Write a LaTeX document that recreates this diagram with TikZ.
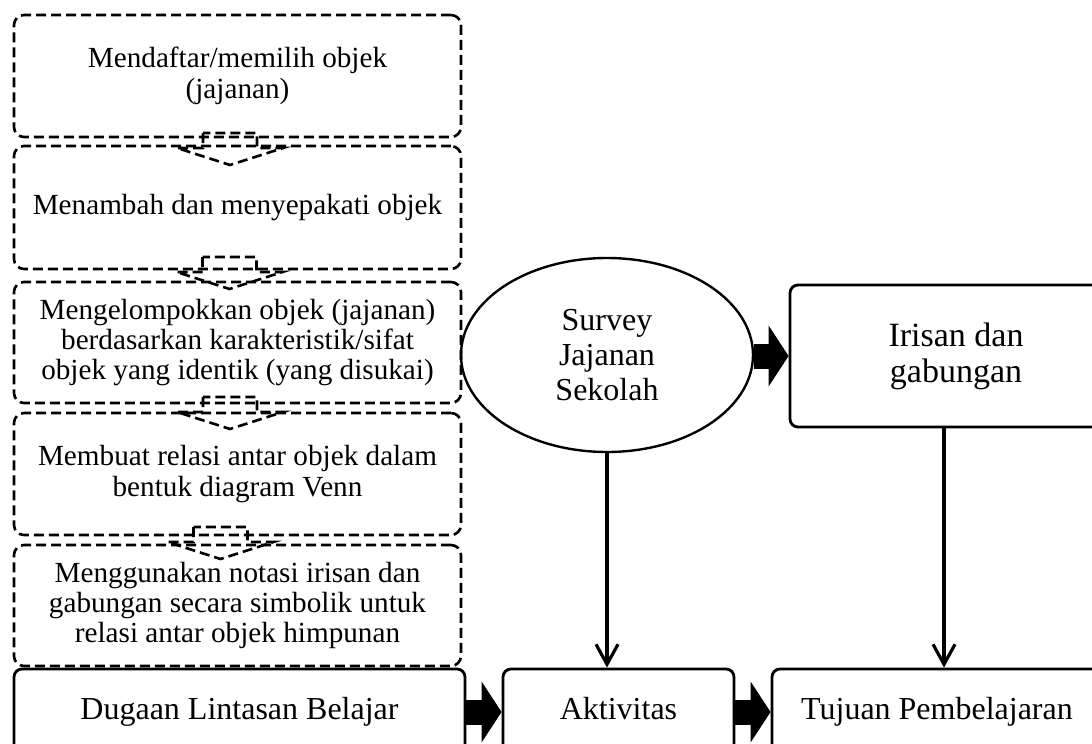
\documentclass[tikz,border=0pt]{standalone}
\usepackage{fontspec}
\setmainfont{Liberation Serif}
\usetikzlibrary{arrows.meta,shapes.geometric,calc}

\begin{document}
\begin{tikzpicture}[x=0.5pt, y=-0.5pt, >={Straight Barb[length=10pt,width=11pt]},
	font=\fontsize{16}{18}\selectfont,
	dashbox/.style={draw, dash pattern=on 5pt off 2.5pt, line width=1.3pt, rounded corners=5pt,
		minimum width=223.5pt, align=center, inner sep=0pt, font=\fontsize{14.6}{15.2}\selectfont},
	solidbox/.style={draw, line width=1.4pt, rounded corners=4pt, align=center, inner sep=0pt},
	rowbox/.style={solidbox, minimum height=43pt, text height=11pt, text depth=3.5pt},
	dasharrow/.style={dash pattern=on 5pt off 2.5pt, line width=1.3pt},
	blockarrow/.style={line width=12.5pt, -{Triangle[length=10pt,width=30pt]}},
	thinarrow/.style={line width=1.6pt, ->}]
	% Bildbereich
	\useasboundingbox (0,0) rectangle (1092,744);
	\clip (0,0) rectangle (1092,744);
	% Lintasan (gestrichelte Kaesten)
	\node[dashbox, minimum height=61pt]   (b1) at (237.5,76)    {Mendaftar/memilih objek\\(jajanan)};
	\node[dashbox, minimum height=61.5pt] (b2) at (237.5,207.5) {Menambah dan menyepakati objek};
	\node[dashbox, minimum height=60.5pt] (b3) at (237.5,342.5) {Mengelompokkan objek (jajanan)\\berdasarkan karakteristik/sifat\\objek yang identik (yang disukai)};
	\node[dashbox, minimum height=61pt]   (b4) at (237.5,474)   {Membuat relasi antar objek dalam\\bentuk diagram Venn};
	\node[dashbox, minimum height=60.5pt] (b5) at (237.5,605.5) {Menggunakan notasi irisan dan\\gabungan secara simbolik untuk\\relasi antar objek himpunan};
	% gestrichelte Pfeile
	\foreach \u/\l/\dx/\dy in {b1/b2/-7.5/-8.5, b2/b3/-8/-18.5, b3/b4/-7.5/-11, b4/b5/-17/-13} {
		\coordinate (m) at ($(\u.south)!0.5!(\l.north)+(\dx,\dy)$);
		\draw[dasharrow] (m) ++(-27,0) -- ++(0,15) -- ++(-26,0) -- ++(53,17) -- ++(53,-17) -- ++(-26,0) -- ++(0,-15) -- cycle;
	}
	% Aktivitas und Ziel
	\node[draw, ellipse, line width=1.2pt, minimum width=146pt, minimum height=97pt, inner sep=0pt,
		align=center, font=\fontsize{16}{17.5}\selectfont] (survey) at (607,355) {Survey\\Jajanan\\Sekolah};
	\node[solidbox, minimum width=166pt, minimum height=71pt, font=\fontsize{17}{18}\selectfont] (iris) at (956,356) {Irisan dan\\gabungan};
	% untere Reihe
	\node[rowbox, minimum width=225.5pt] (dla) at (239.5,712) {Dugaan Lintasan Belajar};
	\node[rowbox, minimum width=115.5pt] (akt) at (618.5,712) {Aktivitas};
	\node[rowbox, minimum width=165pt]   (tuj) at (937,712)   {Tujuan Pembelajaran};
	% Pfeile
	\draw[blockarrow] (survey.east |- iris.west) -- (iris.west);
	\draw[blockarrow] (dla.east) -- (akt.west);
	\draw[blockarrow] (akt.east) -- (tuj.west);
	\draw[thinarrow] (survey.south) -- (survey.south |- akt.north);
	\draw[thinarrow] ([xshift=-6pt]iris.south) -- ([xshift=-6pt]iris.south |- tuj.north);
\end{tikzpicture}
\end{document}
